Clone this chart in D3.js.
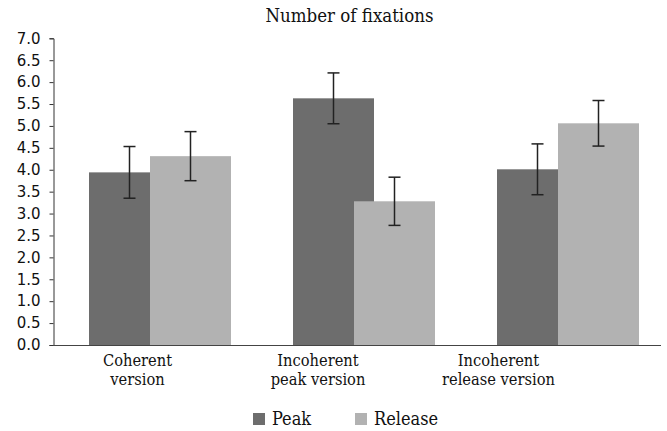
<!DOCTYPE html>
<html><head><meta charset="utf-8">
<script src="https://cdn.jsdelivr.net/npm/d3@7"></script>
<style>body{margin:0;background:#fff}</style>
</head><body>
<svg id="c" width="667" height="431"></svg>
<script>
const categories = ["Coherent version", "Incoherent peak version", "Incoherent release version"];
const categoryLines = [["Coherent", "version"], ["Incoherent", "peak version"], ["Incoherent", "release version"]];
const series = ["Peak", "Release"];
const peakValues = [3.94, 5.63, 4.01];
const releaseValues = [4.31, 3.28, 5.06];
const peakErr = [0.59, 0.58, 0.58];
const releaseErr = [0.56, 0.55, 0.52];
const yTicks = [0, 0.5, 1, 1.5, 2, 2.5, 3, 3.5, 4, 4.5, 5, 5.5, 6, 6.5, 7];
const title = "Number of fixations";

const colors = {Peak: "#6d6d6d", Release: "#b2b2b2"};
const svg = d3.select("#c");
const serif = "'DejaVu Serif Condensed', 'DejaVu Serif', serif";

const y = d3.scaleLinear().domain([0, 7]).range([345, 38.3]);
const x = d3.scaleBand().domain(categories).range([57.5, 669.5]).paddingInner(0).paddingOuter(0);
const barW = 81;
const inner = d3.scalePoint().domain(series).range([31.5, 92.5]);
const labelX = d3.scalePoint().domain(categories).range([137.5, 498.5]);

const data = [];
categories.forEach((c, i) => {
  data.push({c, s: "Peak", v: peakValues[i], e: peakErr[i]});
  data.push({c, s: "Release", v: releaseValues[i], e: releaseErr[i]});
});

svg.append("g").selectAll("rect").data(data).join("rect")
  .attr("x", d => x(d.c) + inner(d.s))
  .attr("y", d => y(d.v))
  .attr("width", barW)
  .attr("height", d => y(0) - y(d.v))
  .attr("fill", d => colors[d.s]);

const eg = svg.append("g").attr("stroke", "#222").attr("stroke-width", 1.5);
data.forEach(d => {
  const cx = x(d.c) + inner(d.s) + barW / 2;
  eg.append("line").attr("x1", cx).attr("x2", cx).attr("y1", y(d.v + d.e)).attr("y2", y(d.v - d.e));
  eg.append("line").attr("x1", cx - 6).attr("x2", cx + 6).attr("y1", y(d.v + d.e)).attr("y2", y(d.v + d.e));
  eg.append("line").attr("x1", cx - 6).attr("x2", cx + 6).attr("y1", y(d.v - d.e)).attr("y2", y(d.v - d.e));
});

const ya = svg.append("g").attr("transform", "translate(53.5,0)")
  .call(d3.axisLeft(y).tickValues(yTicks).tickFormat(d3.format(".1f")).tickSizeOuter(0).tickSize(4).tickPadding(9));
ya.select(".domain").attr("stroke", "#333");
ya.selectAll(".tick line").attr("stroke", "#333");
ya.selectAll("text").attr("font-family", "'DejaVu Sans', sans-serif").attr("font-size", 15).attr("fill", "#111");

svg.append("line").attr("x1", 53).attr("x2", 661).attr("y1", y(0) + 0.5).attr("y2", y(0) + 0.5)
  .attr("stroke", "#444").attr("stroke-width", 1);

categories.forEach((c, i) => {
  categoryLines[i].forEach((ln, j) => {
    svg.append("text").attr("x", labelX(c)).attr("y", 366 + j * 19).attr("text-anchor", "middle")
      .attr("font-family", serif).attr("font-size", 16.3).attr("fill", "#111").text(ln);
  });
});

svg.append("text").attr("x", 349.5).attr("y", 22).attr("text-anchor", "middle")
  .attr("font-family", serif).attr("font-size", 18.5).attr("fill", "#111").text(title);

const legX = {Peak: 253, Release: 355};
series.forEach(s => {
  svg.append("rect").attr("x", legX[s]).attr("y", 413).attr("width", 12).attr("height", 12).attr("fill", colors[s]);
  svg.append("text").attr("x", legX[s] + 19).attr("y", 425).attr("font-family", serif).attr("font-size", 18)
    .attr("fill", "#111").text(s);
});
</script>
</body></html>
